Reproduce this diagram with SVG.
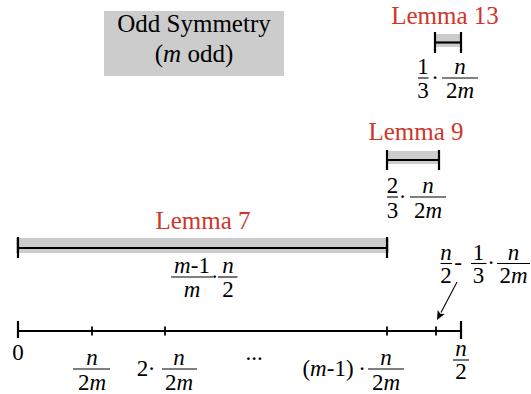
<svg xmlns="http://www.w3.org/2000/svg" width="531" height="394" viewBox="0 0 531 394">
<rect width="531" height="394" fill="#fff"/>

<g id="box" font-family="Liberation Serif, Times New Roman, serif">
<rect x="104" y="11" width="180" height="65" fill="#cccccc"/>
<text x="194" y="32" font-family="Liberation Serif, Times New Roman, serif" font-size="25" text-anchor="middle">Odd Symmetry</text>
<text x="194" y="62" font-family="Liberation Serif, Times New Roman, serif" font-size="25" text-anchor="middle">(<tspan font-style="italic">m</tspan> odd)</text>
</g>

<g id="lemma13" font-family="Liberation Serif, Times New Roman, serif">
<text x="445" y="24" font-family="Liberation Serif, Times New Roman, serif" font-size="25" text-anchor="middle" fill="#d0342a">Lemma 13</text>
<rect x="435" y="34" width="26" height="13" fill="#cccccc"/>
<g stroke="#000" stroke-width="2.2">
<line x1="435" y1="42.5" x2="461" y2="42.5"/>
<line x1="435" y1="32" x2="435" y2="53"/>
<line x1="461" y1="32" x2="461" y2="53"/>
</g>
<text x="423" y="74" font-family="Liberation Serif, Times New Roman, serif" font-size="23" text-anchor="middle">1</text>
<line x1="418" y1="78" x2="428.5" y2="78" stroke="#000" stroke-width="1.1"/>
<text x="423" y="98" font-family="Liberation Serif, Times New Roman, serif" font-size="23" text-anchor="middle">3</text>
<text x="435" y="85" font-family="Liberation Serif, Times New Roman, serif" font-size="23" text-anchor="middle">&#183;</text>
<text x="460" y="74" font-family="Liberation Serif, Times New Roman, serif" font-size="23" text-anchor="middle" font-style="italic">n</text>
<line x1="442" y1="78" x2="478" y2="78" stroke="#000" stroke-width="1.1"/>
<text x="460" y="98" font-family="Liberation Serif, Times New Roman, serif" font-size="23" text-anchor="middle">2<tspan font-style="italic">m</tspan></text>
</g>

<g id="lemma9" font-family="Liberation Serif, Times New Roman, serif">
<text x="416" y="140" font-family="Liberation Serif, Times New Roman, serif" font-size="25" text-anchor="middle" fill="#d0342a">Lemma 9</text>
<rect x="387" y="151" width="52" height="13" fill="#cccccc"/>
<g stroke="#000" stroke-width="2.2">
<line x1="387" y1="160" x2="439" y2="160"/>
<line x1="387" y1="150" x2="387" y2="170"/>
<line x1="439" y1="150" x2="439" y2="170"/>
</g>
<text x="392.5" y="193" font-family="Liberation Serif, Times New Roman, serif" font-size="23" text-anchor="middle">2</text>
<line x1="387" y1="197" x2="398" y2="197" stroke="#000" stroke-width="1.1"/>
<text x="392.5" y="218" font-family="Liberation Serif, Times New Roman, serif" font-size="23" text-anchor="middle">3</text>
<text x="402.5" y="204" font-family="Liberation Serif, Times New Roman, serif" font-size="23" text-anchor="middle">&#183;</text>
<text x="428" y="193" font-family="Liberation Serif, Times New Roman, serif" font-size="23" text-anchor="middle" font-style="italic">n</text>
<line x1="410" y1="197" x2="446" y2="197" stroke="#000" stroke-width="1.1"/>
<text x="428" y="218" font-family="Liberation Serif, Times New Roman, serif" font-size="23" text-anchor="middle">2<tspan font-style="italic">m</tspan></text>
</g>

<g id="lemma7" font-family="Liberation Serif, Times New Roman, serif">
<text x="203" y="229" font-family="Liberation Serif, Times New Roman, serif" font-size="25" text-anchor="middle" fill="#d0342a">Lemma 7</text>
<rect x="16" y="238" width="373" height="15" fill="#cccccc"/>
<g stroke="#000" stroke-width="2.2">
<line x1="18" y1="248" x2="387" y2="248"/>
<line x1="18" y1="237" x2="18" y2="258"/>
<line x1="387" y1="237" x2="387" y2="258"/>
</g>
<text x="192" y="273" font-family="Liberation Serif, Times New Roman, serif" font-size="23" text-anchor="middle"><tspan font-style="italic">m</tspan>-1</text>
<line x1="171" y1="277" x2="213" y2="277" stroke="#000" stroke-width="1.1"/>
<text x="192" y="297" font-family="Liberation Serif, Times New Roman, serif" font-size="23" text-anchor="middle" font-style="italic">m</text>
<text x="214.5" y="284" font-family="Liberation Serif, Times New Roman, serif" font-size="23" text-anchor="middle">&#183;</text>
<text x="228" y="273" font-family="Liberation Serif, Times New Roman, serif" font-size="23" text-anchor="middle" font-style="italic">n</text>
<line x1="218" y1="277" x2="237.5" y2="277" stroke="#000" stroke-width="1.1"/>
<text x="228" y="297" font-family="Liberation Serif, Times New Roman, serif" font-size="23" text-anchor="middle">2</text>
</g>

<g id="axis" stroke="#000">
<line x1="18" y1="331" x2="461" y2="331" stroke-width="2.2"/>
<line x1="18" y1="321" x2="18" y2="338" stroke-width="2.2"/>
<line x1="461" y1="321" x2="461" y2="339" stroke-width="2.2"/>
<line x1="92" y1="326.5" x2="92" y2="335.5" stroke-width="1.8"/>
<line x1="165" y1="326.5" x2="165" y2="335.5" stroke-width="1.8"/>
<line x1="387" y1="326.5" x2="387" y2="335.5" stroke-width="1.8"/>
<line x1="436" y1="326.5" x2="436" y2="335.5" stroke-width="1.8"/>
</g>

<g id="axis-labels" font-family="Liberation Serif, Times New Roman, serif">
<text x="18" y="360" font-family="Liberation Serif, Times New Roman, serif" font-size="23" text-anchor="middle">0</text>
<text x="92" y="365" font-family="Liberation Serif, Times New Roman, serif" font-size="23" text-anchor="middle" font-style="italic">n</text>
<line x1="73" y1="369" x2="110" y2="369" stroke="#000" stroke-width="1.1"/>
<text x="92" y="390" font-family="Liberation Serif, Times New Roman, serif" font-size="23" text-anchor="middle">2<tspan font-style="italic">m</tspan></text>

<text x="142.5" y="376" font-family="Liberation Serif, Times New Roman, serif" font-size="23" text-anchor="middle">2</text>
<text x="151.5" y="376" font-family="Liberation Serif, Times New Roman, serif" font-size="23" text-anchor="middle">&#183;</text>
<text x="179" y="365" font-family="Liberation Serif, Times New Roman, serif" font-size="23" text-anchor="middle" font-style="italic">n</text>
<line x1="162" y1="369" x2="197" y2="369" stroke="#000" stroke-width="1.1"/>
<text x="179" y="390" font-family="Liberation Serif, Times New Roman, serif" font-size="23" text-anchor="middle">2<tspan font-style="italic">m</tspan></text>

<text x="254" y="360" font-family="Liberation Serif, Times New Roman, serif" font-size="23" text-anchor="middle">...</text>

<text x="328" y="376" font-family="Liberation Serif, Times New Roman, serif" font-size="23" text-anchor="middle">(<tspan font-style="italic">m</tspan>-1)</text>
<text x="362" y="376" font-family="Liberation Serif, Times New Roman, serif" font-size="23" text-anchor="middle">&#183;</text>
<text x="386" y="365" font-family="Liberation Serif, Times New Roman, serif" font-size="23" text-anchor="middle" font-style="italic">n</text>
<line x1="368" y1="369" x2="404" y2="369" stroke="#000" stroke-width="1.1"/>
<text x="386" y="390" font-family="Liberation Serif, Times New Roman, serif" font-size="23" text-anchor="middle">2<tspan font-style="italic">m</tspan></text>

<text x="461" y="356" font-family="Liberation Serif, Times New Roman, serif" font-size="23" text-anchor="middle" font-style="italic">n</text>
<line x1="453" y1="360" x2="469" y2="360" stroke="#000" stroke-width="1.1"/>
<text x="461" y="379" font-family="Liberation Serif, Times New Roman, serif" font-size="23" text-anchor="middle">2</text>
</g>

<g id="point-label" font-family="Liberation Serif, Times New Roman, serif">
<text x="446" y="259.5" font-family="Liberation Serif, Times New Roman, serif" font-size="23" text-anchor="middle" font-style="italic">n</text>
<line x1="440.5" y1="263.5" x2="452" y2="263.5" stroke="#000" stroke-width="1.1"/>
<text x="446" y="283" font-family="Liberation Serif, Times New Roman, serif" font-size="23" text-anchor="middle">2</text>
<text x="458" y="270" font-family="Liberation Serif, Times New Roman, serif" font-size="23" text-anchor="middle">-</text>
<text x="478.5" y="259.5" font-family="Liberation Serif, Times New Roman, serif" font-size="23" text-anchor="middle">1</text>
<line x1="471" y1="263.5" x2="486.5" y2="263.5" stroke="#000" stroke-width="1.1"/>
<text x="478.5" y="283" font-family="Liberation Serif, Times New Roman, serif" font-size="23" text-anchor="middle">3</text>
<text x="491" y="270" font-family="Liberation Serif, Times New Roman, serif" font-size="23" text-anchor="middle">&#183;</text>
<text x="513.5" y="259.5" font-family="Liberation Serif, Times New Roman, serif" font-size="23" text-anchor="middle" font-style="italic">n</text>
<line x1="497" y1="263.5" x2="530" y2="263.5" stroke="#000" stroke-width="1.1"/>
<text x="513.5" y="283" font-family="Liberation Serif, Times New Roman, serif" font-size="23" text-anchor="middle">2<tspan font-style="italic">m</tspan></text>
</g>

<g id="connectors">
<line x1="457" y1="282" x2="441" y2="312.4" stroke="#000" stroke-width="1.1"/>
<polygon points="437,320 444.7,313.9 440.3,313.8 437.7,310.1" fill="#000"/>
</g>
</svg>
